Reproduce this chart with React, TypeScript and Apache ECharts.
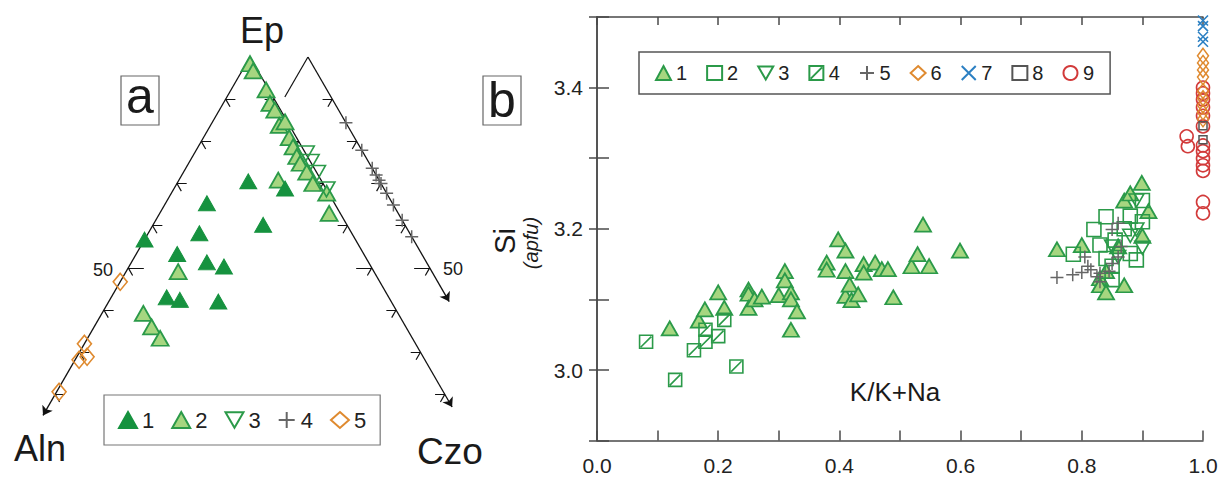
import React, { useEffect, useRef } from 'react';
import * as echarts from 'echarts';

// ---------- Panel a: ternary compositions [Ep, Aln, Czo] (%) ----------
const aGroup1: number[][] = [
  [70.5, 15.1, 14.4], [68.8, 8.4, 22.8], [65.3, 26.2, 8.5], [60.2, 17.2, 22.6],
  [58.2, 31.3, 10.5], [56.7, 43.3, 0], [53.3, 38.3, 8.4], [51.3, 33.2, 15.5],
  [50.3, 30.2, 19.5], [43.0, 45.6, 11.4], [42.4, 43.2, 14.4], [42.0, 35.5, 22.5],
];
const aGroup2: number[][] = [
  [98.4, 0.8, 0.8], [96.7, 1.0, 2.3], [92.2, 0.6, 7.2], [89.0, 1.4, 9.6],
  [87.4, 1.2, 11.4], [83.8, 2.1, 14.1], [84.6, 0.5, 14.9], [80.9, 1.5, 17.6],
  [78.7, 1.8, 19.5], [76.4, 2.2, 21.4], [74.8, 2.3, 22.9], [72.7, 2.0, 25.3],
  [70.0, 2.1, 27.9], [67.7, 0.4, 31.9], [62.9, 2.3, 34.8],
  [70.8, 8.8, 20.4], [49.1, 40.2, 10.7], [39.2, 52.3, 8.5], [36.0, 52.2, 11.8],
  [33.3, 51.8, 14.9],
];
const aGroup3: number[][] = [
  [77.1, 0, 22.9], [75.1, 0, 24.9], [72.5, 0, 27.5], [68.6, 0, 31.4],
];
// group 4 is plotted on the shifted Ep–Czo join
const aGroup4: number[][] = [
  [84.4, 0, 15.6], [77.9, 0, 22.1], [73.6, 0, 26.4], [72.0, 0, 28.0], [70.8, 0, 29.2],
  [70.0, 0, 30.0], [67.7, 0, 32.3], [64.9, 0, 35.1], [61.3, 0, 38.7], [57.4, 0, 42.6],
];
const aGroup5: number[][] = [
  [46.7, 53.3, 0], [32.0, 68.0, 0], [28.9, 69.0, 2.1], [28.2, 71.0, 0.8], [20.6, 78.9, 0.5],
];

// ---------- Panel b: [K/(K+Na), Si apfu] ----------
const bGroup1: number[][] = [
  [0.12, 3.059], [0.168, 3.07], [0.178, 3.086], [0.20, 3.11], [0.21, 3.088],
  [0.25, 3.114], [0.25, 3.108], [0.25, 3.088], [0.26, 3.10], [0.272, 3.104],
  [0.30, 3.106], [0.31, 3.14], [0.31, 3.127], [0.32, 3.11], [0.32, 3.10],
  [0.33, 3.083], [0.32, 3.057], [0.379, 3.152], [0.379, 3.142], [0.398, 3.185],
  [0.41, 3.169], [0.41, 3.14], [0.41, 3.105], [0.417, 3.121], [0.42, 3.099],
  [0.431, 3.107], [0.44, 3.15], [0.44, 3.138], [0.459, 3.152], [0.47, 3.143],
  [0.48, 3.143], [0.489, 3.103], [0.519, 3.147], [0.529, 3.164], [0.538, 3.206],
  [0.548, 3.147], [0.599, 3.169],
  [0.759, 3.171], [0.80, 3.177], [0.83, 3.13], [0.83, 3.12], [0.84, 3.11],
  [0.87, 3.12], [0.86, 3.175], [0.87, 3.24], [0.88, 3.25], [0.899, 3.265],
  [0.91, 3.225], [0.90, 3.19], [0.84, 3.14],
];
const bGroup2: number[][] = [
  [0.786, 3.164], [0.82, 3.199], [0.84, 3.217], [0.83, 3.177], [0.855, 3.184],
  [0.88, 3.218], [0.90, 3.21], [0.89, 3.156], [0.90, 3.24], [0.88, 3.165],
  [0.85, 3.147], [0.85, 3.128], [0.84, 3.158], [0.87, 3.20],
];
const bGroup3: number[][] = [
  [0.89, 3.24], [0.89, 3.199], [0.88, 3.19], [0.90, 3.173], [0.86, 3.16], [0.85, 3.175],
];
const bGroup4: number[][] = [
  [0.081, 3.04], [0.129, 2.986], [0.16, 3.028], [0.179, 3.057], [0.179, 3.04],
  [0.20, 3.048], [0.21, 3.071], [0.23, 3.005],
];
const bGroup5: number[][] = [
  [0.759, 3.131], [0.785, 3.135], [0.80, 3.138], [0.805, 3.16], [0.81, 3.147],
  [0.815, 3.142], [0.825, 3.132], [0.83, 3.137], [0.845, 3.14], [0.85, 3.151],
  [0.86, 3.16], [0.86, 3.208], [0.865, 3.175], [0.85, 3.199], [0.83, 3.125],
];
const bGroup6: number[][] = [
  [1, 3.445], [1, 3.435], [1, 3.425], [1, 3.415], [1, 3.395], [1, 3.385],
  [1, 3.375], [1, 3.365], [1, 3.355],
];
const bGroup7: number[][] = [[1, 3.495], [1, 3.487], [1, 3.472], [1, 3.465]];
const bGroup8: number[][] = [[1, 3.346], [1, 3.326]];
const bGroup9: number[][] = [
  [1, 3.40], [1, 3.392], [1, 3.383], [1, 3.372], [1, 3.36], [1, 3.345],
  [1, 3.318], [1, 3.31], [1, 3.30], [1, 3.29], [1, 3.282], [1, 3.238], [1, 3.222],
  [0.973, 3.331], [0.975, 3.317],
];

const xTicksB = [0, 0.2, 0.4, 0.6, 0.8, 1.0];
const yLabelsB = [3.0, 3.2, 3.4];

const FONT = 'Liberation Sans, Arial, Helvetica, sans-serif';
const DARK = '#16923f';
const EDGE = '#2b9a49';
const LIGHT = '#a6d680';
const GREY = '#666666';
const ORANGE = '#df8a2f';
const BLUE = '#2c80c3';
const RED = '#d23a3a';
const NONE = 'rgba(255,255,255,0)';

const SQ = Math.sqrt(3) / 2;
const OFF = 0.119; // shift of the auxiliary Ep–Czo join
const tern = (ep: number, aln: number, czo: number, off = 0) => {
  const s = ep + aln + czo;
  return [czo / s + ep / s / 2 + off, (ep / s) * SQ];
};

const TRI_DOWN = 'path://M0,0L20,0L10,17.32Z';
const HATCH = 'path://M0,0H20V20H0Z M2,18L18,2';
const PLUS = 'path://M10,0V20M0,10H20';
const CROSS = 'path://M0,0L20,20M20,0L0,20';

function buildFrame() {
  const edges = [
    { coords: [tern(100, 0, 0), tern(15, 85, 0)] },
    { coords: [tern(100, 0, 0), tern(17, 0, 83)] },
    { coords: [tern(100, 0, 0, OFF), tern(42, 0, 58, OFF)] },
  ];
  const ticks: any[] = [{ coords: [tern(100, 0, 0, OFF), tern(90.5, 9.5, 0, OFF)] }];
  for (let k = 1; k <= 8; k++) {
    const h = k === 5 ? 0.032 : 0.02;
    const L = tern(100 - 10 * k, 10 * k, 0);
    ticks.push({ coords: [L, [L[0] + h, L[1]]] });
    ticks.push({ coords: [L, [L[0] + 0.009, L[1] - 0.0156]] });
    const R = tern(100 - 10 * k, 0, 10 * k);
    ticks.push({ coords: [R, [R[0] - h, R[1]]] });
    ticks.push({ coords: [R, [R[0] - 0.009, R[1] - 0.0156]] });
    if (k <= 5) {
      const S = tern(100 - 10 * k, 0, 10 * k, OFF);
      ticks.push({ coords: [S, [S[0] - h, S[1]]] });
      ticks.push({ coords: [S, [S[0] - 0.009, S[1] - 0.0156]] });
    }
  }
  return { edges, ticks };
}

function text(x: number, y: number, t: string, size: number, extra: any = {}, rotation = 0) {
  return {
    type: 'text', x, y, rotation, silent: true,
    style: { text: t, fontSize: size, fontFamily: FONT, fill: '#1a1a1a', align: 'center', verticalAlign: 'middle', ...extra },
  };
}

export default function App() {
  const ref = useRef<HTMLDivElement>(null);
  useEffect(() => {
    const chart = echarts.init(ref.current!, undefined, { renderer: 'svg' });
    const { edges, ticks } = buildFrame();
    const toT = (arr: number[][], off = 0) => arr.map((p) => tern(p[0], p[1], p[2], off));
    const axLine = { lineStyle: { color: '#4a4a4a', width: 1.5 } };
    const tickB = { show: true, inside: true, length: 10, lineStyle: { color: '#4a4a4a', width: 1.5 } };
    const scatA = (name: string, data: any, symbol: string, size: any, color: string, border: string, bw = 1.6) => ({
      type: 'scatter', name, xAxisIndex: 0, yAxisIndex: 0, data, symbol, symbolSize: size, clip: false,
      itemStyle: { color, borderColor: border, borderWidth: bw, opacity: 1 },
    });
    const scatB = (name: string, data: any, symbol: string, size: any, color: string, border: string, bw = 1.6) => ({
      type: 'scatter', name, xAxisIndex: 1, yAxisIndex: 1, data, symbol, symbolSize: size, clip: false,
      itemStyle: { color, borderColor: border, borderWidth: bw, opacity: 1 },
    });
    const option: any = {
      animation: false,
      backgroundColor: '#fff',
      textStyle: { fontFamily: FONT },
      grid: [
        { left: 6.5, top: 57, width: 487, height: 421.7 },
        { left: 597, top: 17, width: 606, height: 423.6 },
      ],
      xAxis: [
        { gridIndex: 0, type: 'value', min: 0, max: 1, show: false },
        {
          gridIndex: 1, type: 'value', min: 0, max: 1, interval: 0.2, position: 'bottom',
          axisLine: { show: true, ...axLine }, axisTick: tickB,
          minorTick: { show: true, splitNumber: 2, length: 10, lineStyle: { color: '#4a4a4a', width: 1.5 } },
          splitLine: { show: false }, minorSplitLine: { show: false },
          axisLabel: {
            fontSize: 21, color: '#222', margin: 14, fontFamily: FONT,
            formatter: (v: number) => (xTicksB.some((t) => Math.abs(t - v) < 1e-6) ? v.toFixed(1) : ''),
          },
        },
        {
          gridIndex: 1, type: 'value', min: 0, max: 1, interval: 0.2, position: 'top',
          axisLine: { show: true, ...axLine }, axisTick: { ...tickB, length: 8 },
          minorTick: { show: true, splitNumber: 2, length: 8, lineStyle: { color: '#4a4a4a', width: 1.5 } },
          splitLine: { show: false }, axisLabel: { show: false },
        },
      ],
      yAxis: [
        { gridIndex: 0, type: 'value', min: 0, max: SQ, show: false },
        {
          gridIndex: 1, type: 'value', min: 2.9, max: 3.5, interval: 0.1, position: 'left',
          axisLine: { show: true, ...axLine }, axisTick: { ...tickB, length: 12 },
          splitLine: { show: false },
          axisLabel: {
            fontSize: 21, color: '#222', margin: 14, fontFamily: FONT,
            formatter: (v: number) => (yLabelsB.some((t) => Math.abs(t - v) < 1e-6) ? v.toFixed(1) : ''),
          },
        },
        {
          gridIndex: 1, type: 'value', min: 2.9, max: 3.5, interval: 0.1, position: 'right',
          axisLine: { show: true, ...axLine }, axisTick: { ...tickB, length: 8 },
          splitLine: { show: false }, axisLabel: { show: false },
        },
      ],
      legend: [
        {
          left: 104, top: 395, orient: 'horizontal', padding: [14, 14, 14, 14], itemGap: 17,
          itemWidth: 18, itemHeight: 16, borderColor: '#777', borderWidth: 1.2, selectedMode: false,
          textStyle: { fontSize: 22, color: '#222', fontFamily: FONT },
          formatter: (n: string) => n.slice(1),
          data: ['a1', 'a2', 'a3', 'a4', 'a5'],
        },
        {
          left: 639, top: 52, orient: 'horizontal', padding: [11, 16, 11, 16], itemGap: 19,
          itemWidth: 15, itemHeight: 14, borderColor: '#555', borderWidth: 1.5, selectedMode: false,
          textStyle: { fontSize: 20, color: '#222', fontFamily: FONT },
          formatter: (n: string) => n.slice(1),
          data: ['b1', 'b2', 'b3', 'b4', 'b5', 'b6', 'b7', 'b8', 'b9'],
        },
      ],
      series: [
        {
          type: 'lines', coordinateSystem: 'cartesian2d', xAxisIndex: 0, yAxisIndex: 0, silent: true,
          symbol: ['none', 'arrow'], symbolSize: 9, data: edges,
          lineStyle: { color: '#111', width: 1.3, opacity: 1, curveness: 0 },
        },
        {
          type: 'lines', coordinateSystem: 'cartesian2d', xAxisIndex: 0, yAxisIndex: 0, silent: true,
          symbol: ['none', 'none'], data: ticks,
          lineStyle: { color: '#111', width: 1.2, opacity: 1, curveness: 0 },
        },
        scatA('a4', toT(aGroup4, OFF), PLUS, 13, NONE, GREY, 1.5),
        scatA('a2', toT(aGroup2), 'triangle', [17, 15], LIGHT, EDGE, 1.8),
        scatA('a3', toT(aGroup3), TRI_DOWN, [17, 15], NONE, EDGE, 1.6),
        scatA('a1', toT(aGroup1), 'triangle', [17, 15], DARK, DARK, 1),
        scatA('a5', toT(aGroup5), 'diamond', [14, 17], NONE, ORANGE, 1.6),

        scatB('b1', bGroup1, 'triangle', [16, 14], LIGHT, EDGE, 1.8),
        scatB('b4', bGroup4, HATCH, 13, NONE, EDGE, 1.6),
        scatB('b2', bGroup2, 'rect', 14, NONE, EDGE, 1.6),
        scatB('b3', bGroup3, TRI_DOWN, [15, 13], NONE, EDGE, 1.6),
        scatB('b5', bGroup5, PLUS, 13, NONE, GREY, 1.5),
        scatB('b9', bGroup9, 'circle', 13, NONE, RED, 1.6),
        scatB('b6', bGroup6, 'diamond', [11, 15], NONE, ORANGE, 1.5),
        scatB('b8', bGroup8, 'rect', 8, NONE, '#555', 1.5),
        scatB('b7', bGroup7, CROSS, 10, NONE, BLUE, 1.6),
      ],
      graphic: [
        text(262, 30, 'Ep', 36),
        text(40, 448, 'Aln', 36),
        text(450, 451, 'Czo', 37),
        { type: 'rect', silent: true, shape: { x: 121, y: 76, width: 38, height: 49 }, style: { fill: 'none', stroke: '#666', lineWidth: 1.2 } },
        text(140, 96, 'a', 50),
        { type: 'rect', silent: true, shape: { x: 483, y: 76, width: 38, height: 49 }, style: { fill: 'none', stroke: '#666', lineWidth: 1.2 } },
        text(502, 100, 'b', 50),
        text(103, 270, '50', 18),
        text(453, 269, '50', 18),
        text(505, 241, 'Si', 29, {}, Math.PI / 2),
        text(531, 243, '(apfu)', 20, { fontStyle: 'italic' }, Math.PI / 2),
        text(895, 392, 'K/K+Na', 26),
      ],
    };
    chart.setOption(option);
    return () => chart.dispose();
  }, []);
  return (
    <div
      ref={ref}
      style={{ position: 'fixed', left: 0, top: 0, width: 1223, height: 483, background: '#fff' }}
    />
  );
}
